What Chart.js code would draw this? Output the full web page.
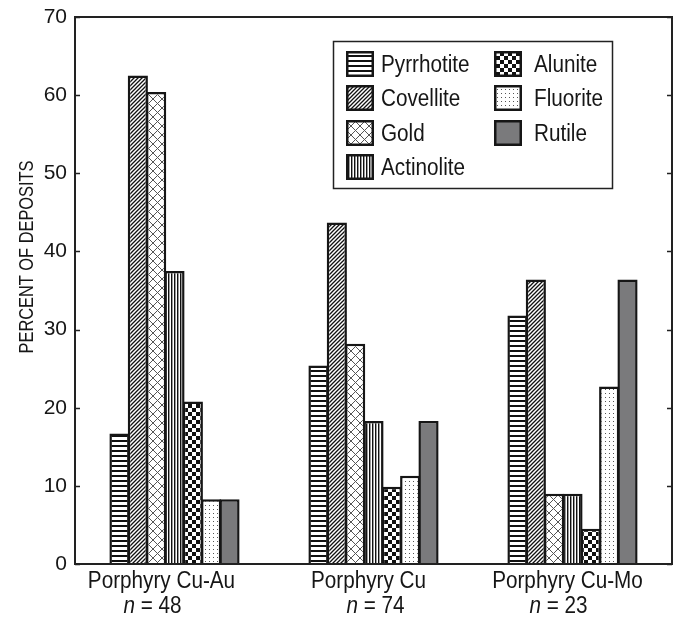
<!DOCTYPE html>
<html>
<head>
<meta charset="utf-8">
<script src="https://cdn.jsdelivr.net/npm/chart.js@4.4.1/dist/chart.umd.min.js"></script>
<style>
  html, body { margin: 0; padding: 0; background: #fff; }
  #wrap { width: 674px; height: 618px; }
</style>
</head>
<body>
<div id="wrap"><canvas id="c" width="674" height="618"></canvas></div>
<script>
// ---- data ----
const categories = ['Porphyry Cu-Au', 'Porphyry Cu', 'Porphyry Cu-Mo'];
const sampleSizes = ['48', '74', '23'];
const minerals = ['Pyrrhotite', 'Covellite', 'Gold', 'Actinolite', 'Alunite', 'Fluorite', 'Rutile'];
const pyrrhotite = [16.7, 25.4, 31.8];
const covellite  = [62.5, 43.7, 36.4];
const gold       = [60.4, 28.2, 9.0];
const actinolite = [37.5, 18.3, 9.0];
const alunite    = [20.8, 9.9, 4.5];
const fluorite   = [8.3, 11.3, 22.7];
const rutile     = [8.3, 18.3, 36.4];
const yTicks = [0, 10, 20, 30, 40, 50, 60, 70];
const yTitle = 'PERCENT OF DEPOSITS';

const seriesValues = [pyrrhotite, covellite, gold, actinolite, alunite, fluorite, rutile];

// ---- styles ----
const FONT = '"Liberation Sans", Arial, sans-serif';
const INK = '#161616';

function tile(w, h, draw) {
  const cv = document.createElement('canvas');
  cv.width = w; cv.height = h;
  const g = cv.getContext('2d');
  g.fillStyle = '#fff'; g.fillRect(0, 0, w, h);
  draw(g, w, h);
  return document.getElementById('c').getContext('2d').createPattern(cv, 'repeat');
}
const patterns = [
  // Pyrrhotite: horizontal stripes
  tile(5, 5, (g) => { g.fillStyle = '#111'; g.fillRect(0, 0, 5, 2); }),
  // Covellite: diagonal hatch
  tile(4, 4, (g) => {
    g.strokeStyle = '#111'; g.lineWidth = 1.3;
    g.beginPath();
    g.moveTo(-1, 5); g.lineTo(5, -1);
    g.moveTo(-1, 1); g.lineTo(1, -1);
    g.moveTo(3, 5); g.lineTo(5, 3);
    g.stroke();
  }),
  // Gold: cross hatch diamonds
  tile(9, 9, (g) => {
    g.strokeStyle = '#555'; g.lineWidth = 1;
    g.beginPath();
    g.moveTo(0, 0); g.lineTo(9, 9);
    g.moveTo(9, 0); g.lineTo(0, 9);
    g.stroke();
  }),
  // Actinolite: fine vertical stripes
  tile(3, 3, (g) => { g.fillStyle = '#111'; g.fillRect(0, 0, 1, 3); g.fillStyle = '#9a9a9a'; g.fillRect(1, 0, 1, 3); }),
  // Alunite: checkerboard
  tile(8, 8, (g) => { g.fillStyle = '#111'; g.fillRect(0, 0, 4, 4); g.fillRect(4, 4, 4, 4); }),
  // Fluorite: dots
  tile(4, 4, (g) => { g.fillStyle = '#555'; g.fillRect(1, 1, 1, 1); }),
  // Rutile: solid gray
  '#7a7a7c'
];

// condensed text helper (horizontal compression of Liberation Sans)
function ctext(ctx, s, x, y, size, sx, align, italic) {
  ctx.save();
  ctx.font = (italic ? 'italic ' : '') + size + 'px ' + FONT;
  const w = ctx.measureText(s).width * sx;
  const x0 = align === 'center' ? x - w / 2 : (align === 'right' ? x - w : x);
  ctx.translate(x0, y);
  ctx.scale(sx, 1);
  ctx.textAlign = 'left';
  ctx.fillText(s, 0, 0);
  ctx.restore();
  return w;
}
function cwidth(ctx, s, size, sx, italic) {
  ctx.save();
  ctx.font = (italic ? 'italic ' : '') + size + 'px ' + FONT;
  const w = ctx.measureText(s).width * sx;
  ctx.restore();
  return w;
}

const decor = {
  id: 'decor',
  afterDraw(chart) {
    const ctx = chart.ctx;
    const a = chart.chartArea;
    const ys = chart.scales.y, xs = chart.scales.x;
    ctx.save();
    // frame
    ctx.strokeStyle = '#222'; ctx.lineWidth = 2;
    ctx.strokeRect(a.left, a.top, a.right - a.left, a.bottom - a.top);
    // inward ticks
    ctx.lineWidth = 1.5;
    yTicks.forEach(v => {
      const y = Math.round(ys.getPixelForValue(v)) + 0.5;
      ctx.beginPath();
      ctx.moveTo(a.left, y); ctx.lineTo(a.left + 5, y);
      ctx.moveTo(a.right, y); ctx.lineTo(a.right - 5, y);
      ctx.stroke();
    });
    ctx.fillStyle = INK;
    ctx.textBaseline = 'middle';
    // axis title
    ctx.save();
    ctx.translate(27, 257);
    ctx.rotate(-Math.PI / 2);
    ctext(ctx, yTitle, 0, 0, 21, 0.78, 'center', false);
    ctx.restore();
    // category labels with italic n
    ctx.textBaseline = 'alphabetic';
    const off1 = [-13, -5, -5], off2 = [-22, 2, -14];
    const SX = 0.9, SZ = 23;
    categories.forEach((c, i) => {
      const x = xs.getPixelForValue(i);
      ctext(ctx, c, x + off1[i], 588, SZ, SX, 'center', false);
      const rest = ' = ' + sampleSizes[i];
      const wn = cwidth(ctx, 'n', SZ, SX, true);
      const wr = cwidth(ctx, rest, SZ, SX, false);
      const sx = x + off2[i] - (wn + wr) / 2;
      ctext(ctx, 'n', sx, 613, SZ, SX, 'left', true);
      ctext(ctx, rest, sx + wn, 613, SZ, SX, 'left', false);
    });
    // legend
    ctx.fillStyle = '#fff';
    ctx.fillRect(333, 41, 280, 148);
    ctx.strokeStyle = '#222'; ctx.lineWidth = 1.5;
    ctx.strokeRect(333.5, 41.5, 279, 147);
    const rowsY = [64, 98, 133, 167];
    minerals.forEach((m, i) => {
      const col = i < 4 ? 0 : 1;
      const row = i < 4 ? i : i - 4;
      const sx = col === 0 ? 346 : 494;
      const tx = col === 0 ? 381 : 534;
      const cy = rowsY[row];
      ctx.fillStyle = patterns[i];
      ctx.fillRect(sx, cy - 13, 28, 26);
      ctx.strokeStyle = INK; ctx.lineWidth = 2.5;
      ctx.strokeRect(sx + 1.25, cy - 11.75, 25.5, 23.5);
      ctx.fillStyle = INK;
      ctext(ctx, m, tx, cy + 8, SZ, SX, 'left', false);
    });
    ctx.restore();
  }
};

new Chart(document.getElementById('c'), {
  type: 'bar',
  data: {
    labels: categories,
    datasets: minerals.map((m, i) => ({
      label: m,
      data: seriesValues[i],
      backgroundColor: patterns[i],
      borderColor: INK,
      borderWidth: 2.5,
      categoryPercentage: 0.645,
      barPercentage: 1.1
    }))
  },
  options: {
    responsive: false,
    animation: false,
    layout: { padding: { top: 17, right: 2, left: 0, bottom: 0 } },
    plugins: { legend: { display: false }, tooltip: { enabled: false } },
    scales: {
      x: {
        grid: { display: false },
        border: { display: true, color: '#222', width: 2 },
        ticks: { display: false },
        afterFit: (s) => { s.height = 54; }
      },
      y: {
        min: 0, max: 70,
        afterBuildTicks: (s) => { s.ticks = yTicks.map(v => ({ value: v })); },
        ticks: { font: { family: FONT, size: 21 }, color: INK, padding: 0 },
        grid: { display: false },
        border: { display: true, color: '#222', width: 2 },
        afterFit: (s) => { s.width = 75; }
      }
    }
  },
  plugins: [decor]
});
</script>
</body>
</html>
